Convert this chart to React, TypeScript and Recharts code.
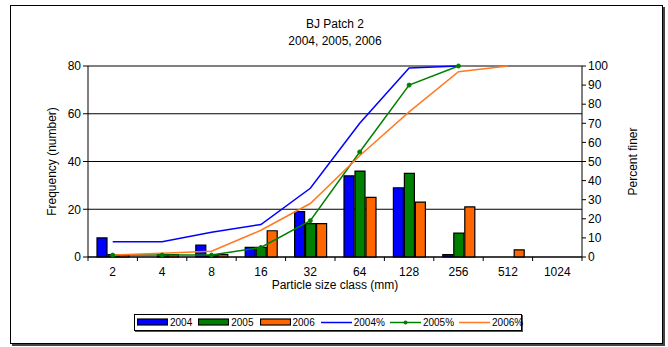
import * as React from 'react';
import {
    ComposedChart,
    Bar,
    Line,
    XAxis,
    YAxis,
    CartesianGrid
} from 'recharts';

const sizes = ['2', '4', '8', '16', '32', '64', '128', '256', '512', '1024'];
const freq2004 = [8, 0, 5, 4, 19, 34, 29, 1, 0, 0];
const freq2005 = [1, 1, 0.5, 4, 14, 36, 35, 10, 0, 0];
const freq2006 = [1, 1, 1, 11, 14, 25, 23, 21, 3, 0];
const pct2004 = [8, 8, 13, 17, 36, 70, 99, 100, null, null];
const pct2005 = [1, 1, 1, 5, 19, 55, 90, 100, null, null];
const pct2006 = [1, 2, 3, 14, 28, 53, 76, 97, 100, null];
const freqTicks = [0, 20, 40, 60, 80];
const pctTicks = [0, 10, 20, 30, 40, 50, 60, 70, 80, 90, 100];

const data = sizes.map((size, i) => ({
    size,
    f2004: freq2004[i],
    f2005: freq2005[i],
    f2006: freq2006[i],
    p2004: pct2004[i],
    p2005: pct2005[i],
    p2006: pct2006[i]
}));

const BLUE = '#0000ff';
const GREEN = '#008000';
const ORANGE = '#ff6600';
const FONT = '"Liberation Sans", Arial, sans-serif';

// ticks sit between the classes, labels in the middle
const SizeTick = (props: any) => {
    const { x, y, payload, index } = props;
    const half = payload && payload.offset ? payload.offset : 24.7;
    const axisY = y - 10;
    return (
        <g>
            <line x1={x - half} x2={x - half} y1={axisY} y2={axisY + 4} stroke="#000" />
            {index === sizes.length - 1 && (
                <line x1={x + half} x2={x + half} y1={axisY} y2={axisY + 4} stroke="#000" />
            )}
            <text x={x} y={y} dy="0.71em" textAnchor="middle" fontSize={12} fill="#000">
                {payload.value}
            </text>
        </g>
    );
};

const legendItems = [
    { name: '2004', color: BLUE, kind: 'bar' },
    { name: '2005', color: GREEN, kind: 'bar' },
    { name: '2006', color: ORANGE, kind: 'bar' },
    { name: '2004%', color: BLUE, kind: 'line' },
    { name: '2005%', color: GREEN, kind: 'dot' },
    { name: '2006%', color: '#ff7a22', kind: 'line' }
];

const ChartLegend: React.FC = () => (
    <div
        style={{
            position: 'absolute',
            left: 134,
            top: 314,
            width: 384,
            height: 15,
            border: '1px solid #000',
            boxShadow: '1px 1px 0 #555',
            display: 'flex',
            alignItems: 'center',
            fontSize: 10,
            paddingLeft: 2,
            boxSizing: 'content-box'
        }}
    >
        {legendItems.map((item) => (
            <div key={item.name} style={{ display: 'flex', alignItems: 'center', marginRight: item.kind === 'bar' ? 6 : 5 }}>
                <svg width={31} height={9} style={{ marginRight: 2 }}>
                    {item.kind === 'bar' ? (
                        <rect x={0.5} y={1} width={30} height={6} fill={item.color} stroke="#000" strokeWidth={1.2} />
                    ) : (
                        <g>
                            <line x1={0} x2={31} y1={4.5} y2={4.5} stroke={item.color} strokeWidth={1.5} />
                            {item.kind === 'dot' && <circle cx={15.5} cy={4.5} r={2} fill={item.color} />}
                        </g>
                    )}
                </svg>
                <span>{item.name}</span>
            </div>
        ))}
    </div>
);

export default function App() {
    return (
        <div
            style={{
                position: 'absolute',
                left: 0,
                top: 0,
                width: 668,
                height: 347,
                background: '#fff',
                fontFamily: FONT,
                color: '#000'
            }}
        >
            <div
                style={{
                    position: 'absolute',
                    left: 10,
                    top: 5,
                    width: 651,
                    height: 337,
                    border: '1px solid #000',
                    boxShadow: '2px 2px 0 #444'
                }}
            />
            <div
                style={{
                    position: 'absolute',
                    left: 88,
                    width: 494,
                    top: 16,
                    textAlign: 'center',
                    fontSize: 12,
                    lineHeight: '17px'
                }}
            >
                <div>BJ Patch 2</div>
                <div>2004, 2005, 2006</div>
            </div>
            <div style={{ position: 'absolute', left: 0, top: 0 }}>
                <ComposedChart
                    width={668}
                    height={347}
                    data={data}
                    margin={{ top: 66, right: 0, bottom: 0, left: 0 }}
                    barSize={10}
                    barGap={1}
                >
                    <CartesianGrid yAxisId="left" vertical={false} stroke="#000" />
                    <XAxis
                        dataKey="size"
                        height={90}
                        axisLine={{ stroke: '#000' }}
                        tickLine={false}
                        tickSize={4}
                        tickMargin={6}
                        interval={0}
                        tick={<SizeTick />}
                        label={{ value: 'Particle size class (mm)', position: 'insideTop', offset: 23, fontSize: 12, fill: '#000' }}
                    />
                    <YAxis
                        yAxisId="left"
                        width={88}
                        domain={[0, 80]}
                        ticks={freqTicks}
                        axisLine={{ stroke: '#000' }}
                        tickLine={{ stroke: '#000' }}
                        tickSize={5}
                        tick={{ fill: '#000', fontSize: 12 }}
                        label={{
                            value: 'Frequency (number)',
                            angle: -90,
                            position: 'insideLeft',
                            offset: 52,
                            fontSize: 12,
                            fill: '#000',
                            style: { textAnchor: 'middle' }
                        }}
                    />
                    <YAxis
                        yAxisId="right"
                        orientation="right"
                        width={86}
                        domain={[0, 100]}
                        ticks={pctTicks}
                        interval={0}
                        axisLine={{ stroke: '#000' }}
                        tickLine={{ stroke: '#000' }}
                        tickSize={4}
                        tick={{ fill: '#000', fontSize: 12 }}
                        label={{
                            value: 'Percent finer',
                            angle: -90,
                            position: 'insideRight',
                            offset: 35,
                            fontSize: 12,
                            fill: '#000',
                            style: { textAnchor: 'middle' }
                        }}
                    />
                    <Bar yAxisId="left" dataKey="f2004" fill={BLUE} stroke="#000" strokeWidth={1.2} isAnimationActive={false} />
                    <Bar yAxisId="left" dataKey="f2005" fill={GREEN} stroke="#000" strokeWidth={1.2} isAnimationActive={false} />
                    <Bar yAxisId="left" dataKey="f2006" fill={ORANGE} stroke="#000" strokeWidth={1.2} isAnimationActive={false} />
                    <Line yAxisId="right" type="linear" dataKey="p2004" stroke={BLUE} strokeWidth={1.5} dot={false} isAnimationActive={false} />
                    <Line
                        yAxisId="right"
                        type="linear"
                        dataKey="p2005"
                        stroke={GREEN}
                        strokeWidth={1.5}
                        dot={{ r: 2, fill: GREEN, stroke: GREEN, strokeWidth: 1 }}
                        isAnimationActive={false}
                    />
                    <Line yAxisId="right" type="linear" dataKey="p2006" stroke="#ff7a22" strokeWidth={1.5} dot={false} isAnimationActive={false} />
                </ComposedChart>
            </div>
            <ChartLegend />
        </div>
    );
}
